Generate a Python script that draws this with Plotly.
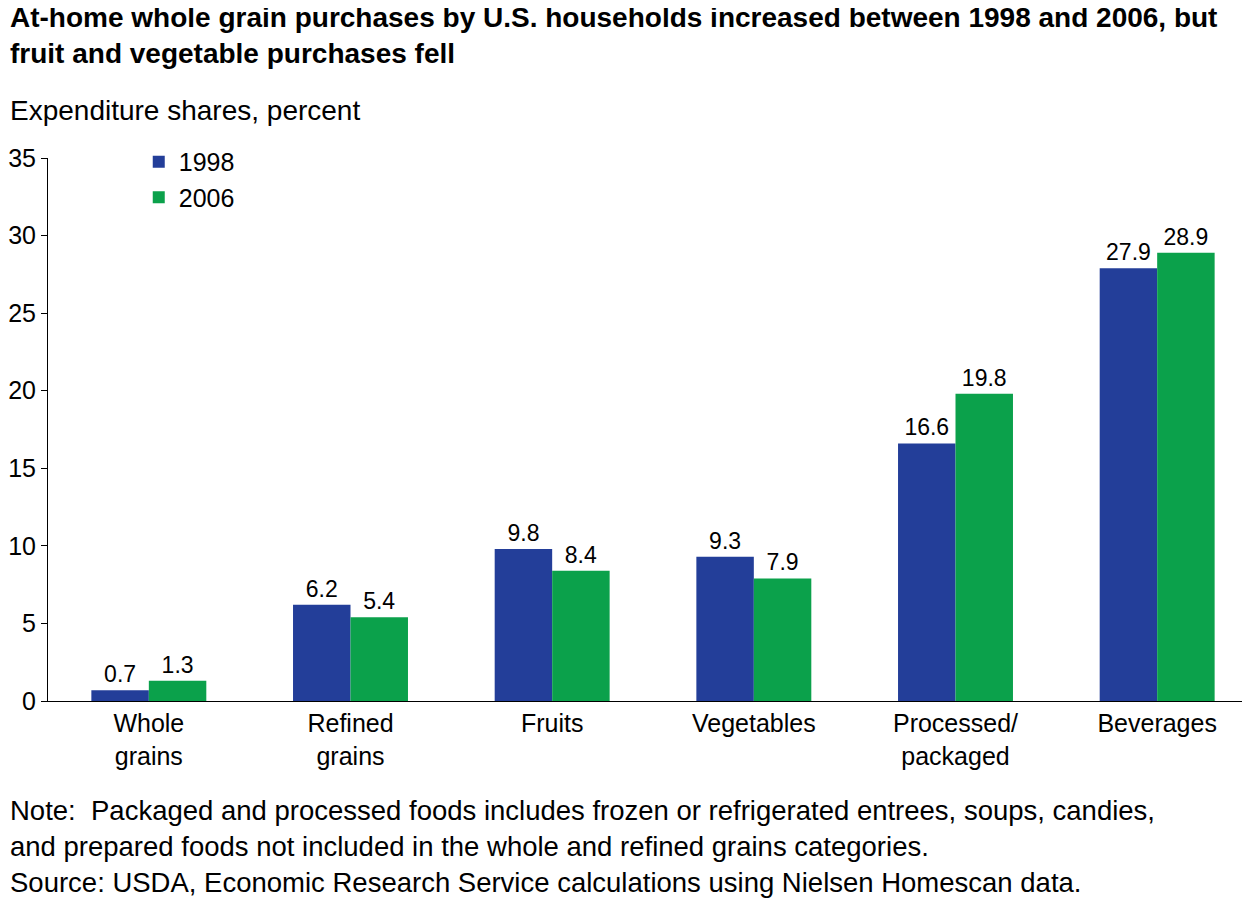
import plotly.graph_objects as go

categories = ["Whole<br>grains", "Refined<br>grains", "Fruits", "Vegetables", "Processed/<br>packaged", "Beverages"]
v1998 = [0.7, 6.2, 9.8, 9.3, 16.6, 27.9]
v2006 = [1.3, 5.4, 8.4, 7.9, 19.8, 28.9]
yticks = [0, 5, 10, 15, 20, 25, 30, 35]

F = "Liberation Sans, Arial, sans-serif"
fig = go.Figure()
for name, vals, col in [("1998", v1998, "#233E99"), ("2006", v2006, "#0BA14B")]:
    fig.add_bar(x=categories, y=vals, name=name, marker_color=col, marker_line_width=0,
                text=[f"{v:.1f}" for v in vals], textposition="outside",
                textfont=dict(size=23, color="black"), cliponaxis=False)

fig.update_layout(
    width=1250, height=922, barmode="group", bargap=0.43, bargroupgap=0,
    plot_bgcolor="white", paper_bgcolor="white",
    font=dict(family=F, size=24, color="black"),
    margin=dict(l=32, r=0, t=150, b=229),
    showlegend=True,
    legend=dict(x=0.075, y=1.035, xanchor="left", yanchor="top", font=dict(size=25),
                bgcolor="rgba(0,0,0,0)", itemwidth=30, tracegroupgap=8),
    xaxis=dict(showline=True, linecolor="black", linewidth=1, ticks="", tickfont=dict(size=25)),
    yaxis=dict(range=[0, 35], tickvals=yticks, showgrid=False, showline=True, linecolor="black",
               ticks="outside", ticklen=6, tickcolor="black", tickfont=dict(size=25), zeroline=False),
)
fig.add_annotation(text="<b>At-home whole grain purchases by U.S. households increased between 1998 and 2006, but<br>fruit and vegetable purchases fell</b>",
                   xref="paper", yref="paper", x=0, y=1, xanchor="left", yanchor="top", align="left",
                   showarrow=False, font=dict(size=28), xshift=-40, yshift=158)
fig.add_annotation(text="Expenditure shares, percent", xref="paper", yref="paper", x=0, y=1,
                   xanchor="left", yanchor="bottom", showarrow=False, xshift=-40, yshift=30, font=dict(size=28))
fig.add_annotation(text="Note:  Packaged and processed foods includes frozen or refrigerated entrees, soups, candies,<br>and prepared foods not included in the whole and refined grains categories.<br>Source: USDA, Economic Research Service calculations using Nielsen Homescan data.",
                   xref="paper", yref="paper", x=0, y=0, xanchor="left", yanchor="top", align="left",
                   showarrow=False, xshift=-40, yshift=-92, font=dict(size=27.5))
fig.write_html("out.html")
